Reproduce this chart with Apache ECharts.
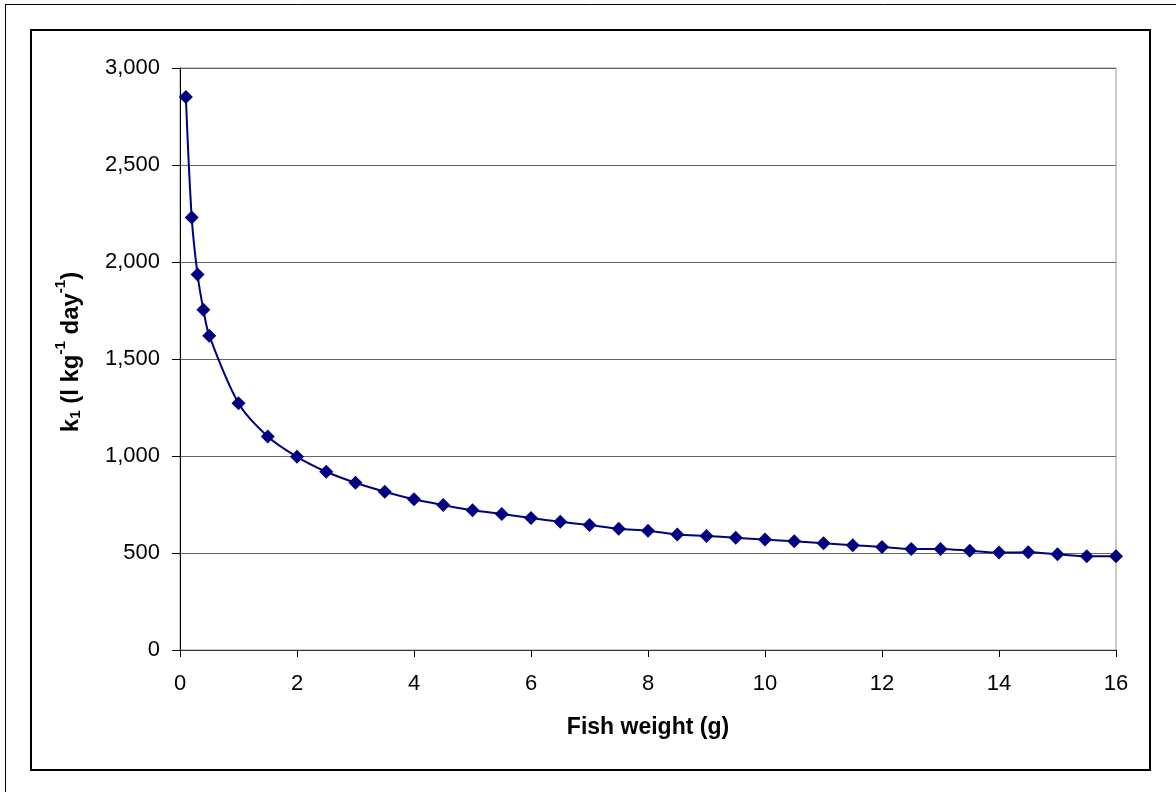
<!DOCTYPE html>
<html>
<head>
<meta charset="utf-8">
<script src="https://cdn.jsdelivr.net/npm/echarts@6/dist/echarts.min.js"></script>
<style>
html,body{margin:0;padding:0;background:#fff;}
#chart{width:1176px;height:794px;}
</style>
</head>
<body>
<div id="chart"></div>
<script>
const fishWeight = [0.1, 0.2, 0.3, 0.4, 0.5, 1, 1.5, 2, 2.5, 3, 3.5, 4, 4.5, 5, 5.5, 6, 6.5, 7, 7.5, 8, 8.5, 9, 9.5, 10, 10.5, 11, 11.5, 12, 12.5, 13, 13.5, 14, 14.5, 15, 15.5, 16];
const k1Values = [2850, 2230, 1935, 1754, 1620, 1272, 1101, 996, 919, 862, 816, 777, 747, 720, 701, 680, 661, 644, 625, 615, 595, 588, 579, 569, 560, 550, 540, 531, 521, 521, 512, 502, 504, 493, 483, 483];
const xTicks = [0, 2, 4, 6, 8, 10, 12, 14, 16];
const yTicks = [0, 500, 1000, 1500, 2000, 2500, 3000];

const seriesData = fishWeight.map((w, i) => [w, k1Values[i]]);

const chart = echarts.init(document.getElementById('chart'));
const font = 'Liberation Sans, Arial, sans-serif';
chart.setOption({
  animation: false,
  backgroundColor: '#fff',
  textStyle: { fontFamily: font },
  graphic: [
    { type: 'line', shape: { x1: 5, y1: 4.5, x2: 1176, y2: 4.5 }, style: { stroke: '#000', lineWidth: 1 } },
    { type: 'line', shape: { x1: 5.5, y1: 4, x2: 5.5, y2: 792 }, style: { stroke: '#000', lineWidth: 1 } },
    { type: 'rect', shape: { x: 31, y: 30, width: 1119, height: 740 }, style: { fill: 'none', stroke: '#000', lineWidth: 2 } }
  ],
  grid: {
    left: 180, right: 60, top: 68, bottom: 144,
    show: true, borderColor: '#999', borderWidth: 1, backgroundColor: 'transparent'
  },
  xAxis: {
    type: 'value', min: xTicks[0], max: xTicks[xTicks.length - 1], interval: 2,
    name: 'Fish weight (g)', nameLocation: 'middle', nameGap: 66,
    nameTextStyle: { fontSize: 23, fontWeight: 'bold', color: '#000', fontFamily: font },
    axisLine: { show: true, lineStyle: { color: '#333', width: 1 } },
    axisTick: { show: true, inside: false, length: 7, lineStyle: { color: '#000' } },
    axisLabel: { color: '#000', fontSize: 22, margin: 23, fontFamily: font },
    splitLine: { show: false }
  },
  yAxis: {
    type: 'value', min: yTicks[0], max: yTicks[yTicks.length - 1], interval: 500,
    name: '{b|k}{sub|1}{b| (l kg}{sup|-1}{b| day}{sup|-1}{b|)}',
    nameLocation: 'middle', nameGap: 97, nameRotate: 90,
    nameTextStyle: {
      color: '#000', fontFamily: font, padding: [0, 0, 0, 14],
      rich: {
        b: { fontSize: 24, fontWeight: 'bold', color: '#000', fontFamily: font, lineHeight: 30, verticalAlign: 'bottom' },
        sup: { fontSize: 15, fontWeight: 'bold', color: '#000', fontFamily: font, lineHeight: 14, verticalAlign: 'top' },
        sub: { fontSize: 15, fontWeight: 'bold', color: '#000', fontFamily: font, lineHeight: 14, verticalAlign: 'bottom' }
      }
    },
    axisLine: { show: true, lineStyle: { color: '#000', width: 1 } },
    axisTick: { show: true, inside: false, length: 8, lineStyle: { color: '#000' } },
    axisLabel: {
      color: '#000', fontSize: 22, margin: 20, fontFamily: font,
      formatter: v => v.toLocaleString('en-US')
    },
    splitLine: { show: true, lineStyle: { color: '#666', width: 1 } }
  },
  series: [{
    type: 'line',
    data: seriesData,
    smooth: 0.3,
    symbol: 'diamond',
    symbolSize: 14,
    itemStyle: { color: '#000080' },
    lineStyle: { color: '#000080', width: 2 }
  }]
});
</script>
</body>
</html>
